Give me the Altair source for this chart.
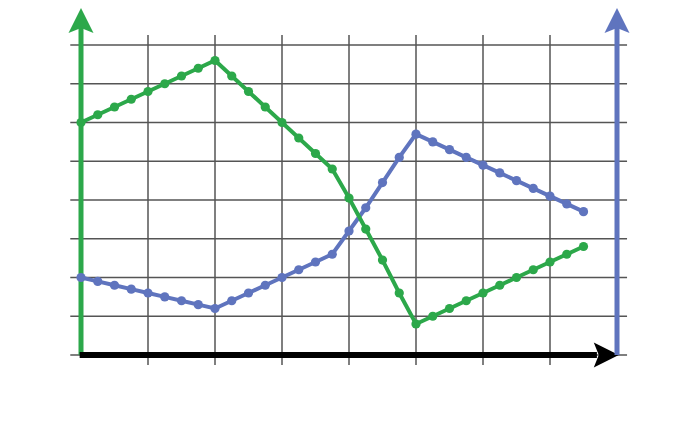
import altair as alt
import pandas as pd

# x positions (grid units) of the data points
x_pos = [0.0, 0.25, 0.5, 0.75, 1.0, 1.25, 1.5, 1.75, 2.0, 2.25, 2.5, 2.75,
         3.0, 3.25, 3.5, 3.75, 4.0, 4.25, 4.5, 4.75, 5.0, 5.25, 5.5, 5.75,
         6.0, 6.25, 6.5, 6.75, 7.0, 7.25, 7.5]

green_vals = [6.0, 6.2, 6.4, 6.6, 6.8, 7.0, 7.2, 7.4, 7.6, 7.2, 6.8, 6.4,
              6.0, 5.6, 5.2, 4.8, 4.05, 3.25, 2.45, 1.6, 0.8, 1.0, 1.2, 1.4,
              1.6, 1.8, 2.0, 2.2, 2.4, 2.6, 2.8]

blue_vals = [2.0, 1.9, 1.8, 1.7, 1.6, 1.5, 1.4, 1.3, 1.2, 1.4, 1.6, 1.8,
             2.0, 2.2, 2.4, 2.6, 3.2, 3.8, 4.45, 5.1, 5.7, 5.5, 5.3, 5.1,
             4.9, 4.7, 4.5, 4.3, 4.1, 3.9, 3.7]

v_grid = [1, 2, 3, 4, 5, 6, 7]
h_grid = [0, 1, 2, 3, 4, 5, 6, 7, 8]

GREEN = "#2ca84a"
BLUE = "#5f74be"
GRID = "#555555"

xs = alt.Scale(domain=[0, 8], nice=False, zero=False)
ys = alt.Scale(domain=[0, 8], nice=False, zero=False)


def X(field):
    return alt.X(field, type="quantitative", scale=xs, axis=None)


def Y(field):
    return alt.Y(field, type="quantitative", scale=ys, axis=None)


def X2(field):
    return alt.X2(field)


def Y2(field):
    return alt.Y2(field)


vgrid = alt.Chart(pd.DataFrame({"x": v_grid, "y0": -0.26, "y1": 8.26})).mark_rule(
    color=GRID, strokeWidth=1.5
).encode(x=X("x"), y=Y("y0"), y2=Y2("y1"))

hgrid = alt.Chart(pd.DataFrame({"y": h_grid, "x0": -0.16, "x1": 8.15})).mark_rule(
    color=GRID, strokeWidth=1.5
).encode(y=Y("y"), x=X("x0"), x2=X2("x1"))

arrow_up = "M0,-1L1,1L0,0.6L-1,1Z"
arrow_right = "M1,0L-1,1L-0.6,0L-1,-1Z"

vaxes = pd.DataFrame({"x": [0], "y0": [0.0], "y1": [8.45], "yh": [8.63]})
vaxes_b = pd.DataFrame({"x": [8], "y0": [0.0], "y1": [8.45], "yh": [8.63]})
haxis = pd.DataFrame({"y": [0], "x0": [-0.02], "x1": [7.7], "xh": [7.84]})

green_axis = alt.Chart(vaxes).mark_rule(color=GREEN, strokeWidth=5).encode(
    x=X("x"), y=Y("y0"), y2=Y2("y1"))
green_head = alt.Chart(vaxes).mark_point(
    shape=arrow_up, size=625, filled=True, color=GREEN, opacity=1
).encode(x=X("x"), y=Y("yh"))

blue_axis = alt.Chart(vaxes_b).mark_rule(color=BLUE, strokeWidth=5).encode(
    x=X("x"), y=Y("y0"), y2=Y2("y1"))
blue_head = alt.Chart(vaxes_b).mark_point(
    shape=arrow_up, size=625, filled=True, color=BLUE, opacity=1
).encode(x=X("x"), y=Y("yh"))

black_axis = alt.Chart(haxis).mark_rule(color="black", strokeWidth=6).encode(
    y=Y("y"), x=X("x0"), x2=X2("x1"))
black_head = alt.Chart(haxis).mark_point(
    shape=arrow_right, size=625, filled=True, color="black", opacity=1
).encode(y=Y("y"), x=X("xh"))

df = pd.DataFrame({"x": x_pos, "green": green_vals, "blue": blue_vals})

blue_line = alt.Chart(df).mark_line(color=BLUE, strokeWidth=4).encode(
    x=X("x"), y=Y("blue"))
blue_pts = alt.Chart(df).mark_circle(color=BLUE, size=85, opacity=1).encode(
    x=X("x"), y=Y("blue"))

green_line = alt.Chart(df).mark_line(color=GREEN, strokeWidth=4).encode(
    x=X("x"), y=Y("green"))
green_pts = alt.Chart(df).mark_circle(color=GREEN, size=85, opacity=1).encode(
    x=X("x"), y=Y("green"))

chart = alt.layer(
    vgrid, hgrid, green_axis, green_head, black_axis, black_head,
    blue_axis, blue_head, blue_line, blue_pts, green_line, green_pts
).properties(
    width=536, height=310,
    padding={"left": 73, "top": 37, "right": 60, "bottom": 40},
    autosize=alt.AutoSizeParams(type="none"),
    background="white",
).configure_view(stroke=None)

chart.save("out.html", embed_options={"renderer": "svg", "actions": False})
